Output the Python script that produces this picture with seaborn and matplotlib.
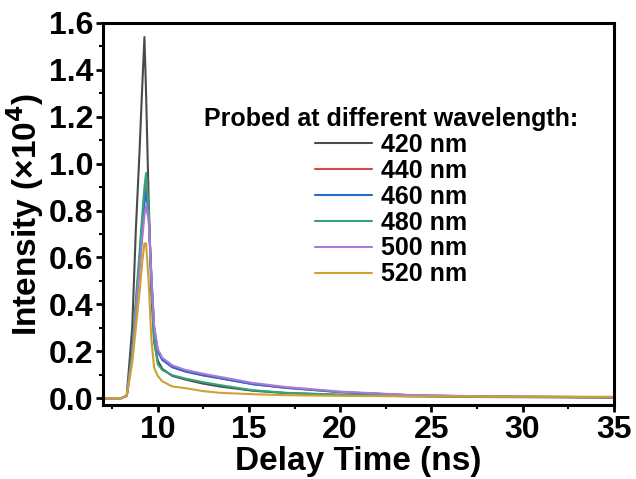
import numpy as np
import pandas as pd
import matplotlib
matplotlib.use("Agg")
import matplotlib.pyplot as plt
import seaborn as sns
from matplotlib.ticker import MultipleLocator

# ---- data ----
time_ns = [7.0, 8.0, 8.3, 8.6, 8.8, 9.0, 9.15, 9.27, 9.36, 9.5, 9.65, 9.8,
           10.0, 10.25, 10.8, 11.5, 12.5, 13.4, 15.2, 17.0, 20.0, 24.0, 28.0, 35.0]

int_420 = [0.0, 0.0, 0.01, 0.30, 0.72, 1.05, 1.33, 1.54, 1.30, 0.85, 0.45, 0.24,
           0.16, 0.125, 0.095, 0.080, 0.062, 0.050, 0.032, 0.022, 0.014, 0.008, 0.005, 0.003]
int_440 = [0.0, 0.0, 0.01, 0.19, 0.40, 0.59, 0.75, 0.86, 0.92, 0.80, 0.52, 0.30,
           0.20, 0.165, 0.133, 0.115, 0.098, 0.086, 0.060, 0.044, 0.026, 0.012, 0.007, 0.004]
int_460 = [0.0, 0.0, 0.01, 0.18, 0.38, 0.57, 0.72, 0.83, 0.88, 0.78, 0.52, 0.30,
           0.20, 0.163, 0.132, 0.114, 0.097, 0.085, 0.060, 0.045, 0.026, 0.012, 0.007, 0.004]
int_480 = [0.0, 0.0, 0.01, 0.20, 0.42, 0.62, 0.78, 0.90, 0.96, 0.80, 0.50, 0.25,
           0.145, 0.120, 0.098, 0.084, 0.068, 0.056, 0.034, 0.023, 0.015, 0.010, 0.006, 0.004]
int_500 = [0.0, 0.0, 0.01, 0.17, 0.36, 0.54, 0.68, 0.78, 0.82, 0.76, 0.52, 0.31,
           0.21, 0.172, 0.140, 0.121, 0.104, 0.091, 0.065, 0.048, 0.028, 0.013, 0.008, 0.004]
int_520 = [0.0, 0.0, 0.01, 0.15, 0.30, 0.45, 0.58, 0.66, 0.66, 0.50, 0.25, 0.13,
           0.095, 0.072, 0.050, 0.043, 0.030, 0.023, 0.017, 0.013, 0.010, 0.008, 0.007, 0.006]

labels = ["420 nm", "440 nm", "460 nm", "480 nm", "500 nm", "520 nm"]
series = [int_420, int_440, int_460, int_480, int_500, int_520]
colors = ["#4a4a4a", "#d94848", "#2a6ad0", "#36a277", "#a87bd6", "#cca232"]

df = pd.concat([pd.DataFrame({"t": time_ns, "I": s, "wl": lab})
                for s, lab in zip(series, labels)], ignore_index=True)

# ---- style ----
sns.set_style("ticks")
plt.rcParams["font.family"] = ["Liberation Sans", "DejaVu Sans"]
plt.rcParams["font.weight"] = "bold"
for k in ["text.color", "axes.labelcolor", "xtick.color", "ytick.color", "axes.edgecolor"]:
    plt.rcParams[k] = "black"

fig = plt.figure(figsize=(6.36, 4.79), dpi=100)
ax = fig.add_axes([0.162, 0.154, 0.803, 0.798])

sns.lineplot(data=df, x="t", y="I", hue="wl", palette=colors, hue_order=labels,
             ax=ax, linewidth=1.5, sort=False, estimator=None)

ax.set_xlim(7, 35)
ax.set_ylim(-0.03, 1.6)
ax.xaxis.set_major_locator(MultipleLocator(5))
ax.xaxis.set_minor_locator(MultipleLocator(2.5))
ax.yaxis.set_minor_locator(MultipleLocator(0.1))
ax.set_yticks(np.arange(0, 1.61, 0.2))
ax.set_yticklabels([f"{v:.1f}" for v in np.arange(0, 1.61, 0.2)])

ax.set_xlabel("Delay Time (ns)", fontsize=24, fontweight="bold", labelpad=1)
ax.set_ylabel("Intensity (×10$^\\mathbf{4}$)", fontsize=24, fontweight="bold", labelpad=2)

for sp in ax.spines.values():
    sp.set_visible(True)
    sp.set_linewidth(2.2)
ax.tick_params(axis="both", which="major", direction="out", length=5, width=2,
               labelsize=23, pad=2)
ax.tick_params(axis="both", which="minor", direction="out", length=3, width=1.5)
for lab in ax.get_xticklabels() + ax.get_yticklabels():
    lab.set_fontweight("bold")

leg = ax.legend(title="Probed at different wavelength:", loc="upper center",
                bbox_to_anchor=(0.564, 0.826), frameon=False,
                prop={"size": 18, "weight": "bold"},
                title_fontproperties={"size": 18, "weight": "bold"},
                handlelength=2.28, handletextpad=0.35, labelspacing=0.075,
                borderpad=0.2)

fig.savefig("out.png", dpi=100)
